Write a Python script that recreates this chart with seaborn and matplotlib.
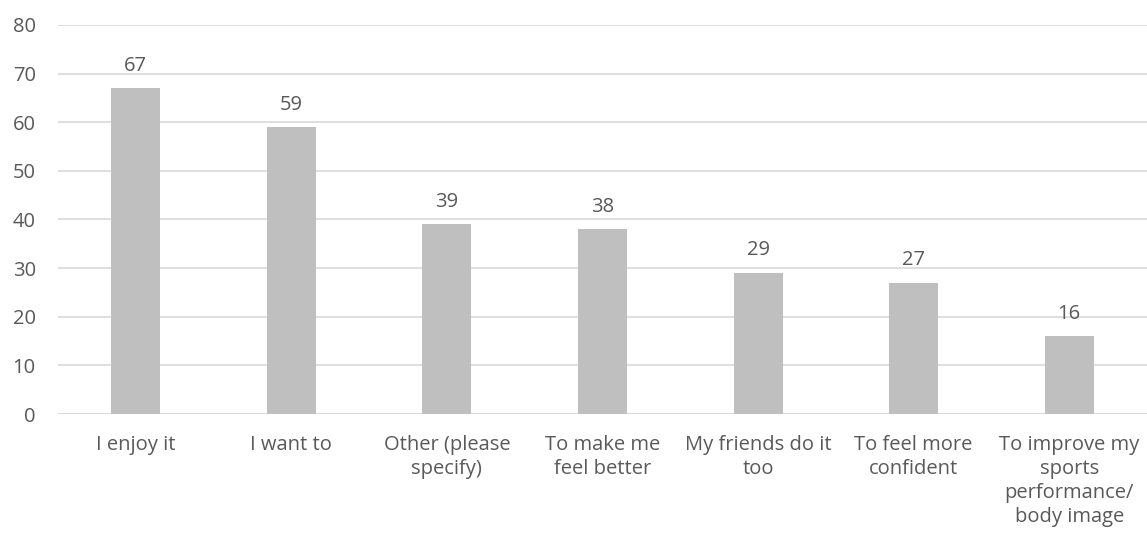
import matplotlib
matplotlib.use("Agg")
import matplotlib.pyplot as plt
import seaborn as sns
import pandas as pd

# Reasons for taking part, with number of respondents
categories = [
    "I enjoy it",
    "I want to",
    "Other (please\nspecify)",
    "To make me\nfeel better",
    "My friends do it\ntoo",
    "To feel more\nconfident",
    "To improve my\nsports\nperformance/\nbody image",
]
counts = [67, 59, 39, 38, 29, 27, 16]
y_ticks = [0, 10, 20, 30, 40, 50, 60, 70, 80]

sns.set_theme(style="white")
plt.rcParams["font.family"] = ["Open Sans", "DejaVu Sans"]

text_color = "#595959"
grid_color = "#D9D9D9"
bar_color = "#BFBFBF"
font_size = 14.5

df = pd.DataFrame({"category": categories, "count": counts})

fig = plt.figure(figsize=(11.47, 5.42), dpi=100)
ax = fig.add_axes([58 / 1147, 1 - 414 / 542, 1 - 58 / 1147, (414 - 25) / 542])

sns.barplot(data=df, x="category", y="count", color=bar_color, width=0.315,
            saturation=1, linewidth=0, ax=ax, zorder=3)

ax.set_ylim(0, 80)
ax.set_yticks(y_ticks)
ax.yaxis.grid(True, color=grid_color, linewidth=1.2, zorder=0)
ax.set_axisbelow(True)
for side in ["top", "right", "left", "bottom"]:
    ax.spines[side].set_visible(False)
ax.axhline(0, color=grid_color, linewidth=1.2, zorder=1)

ax.set_xlabel("")
ax.set_ylabel("")
ax.tick_params(axis="both", length=0, labelsize=font_size, labelcolor=text_color)
ax.tick_params(axis="y", pad=16)
ax.tick_params(axis="x", pad=15)
for lbl in ax.get_xticklabels():
    lbl.set_linespacing(1.28)
for lbl in ax.get_yticklabels():
    lbl.set_horizontalalignment("right")

for container in ax.containers:
    ax.bar_label(container, labels=[str(v) for v in counts], padding=9,
                 fontsize=font_size, color=text_color)

fig.savefig("out.png", dpi=100)
